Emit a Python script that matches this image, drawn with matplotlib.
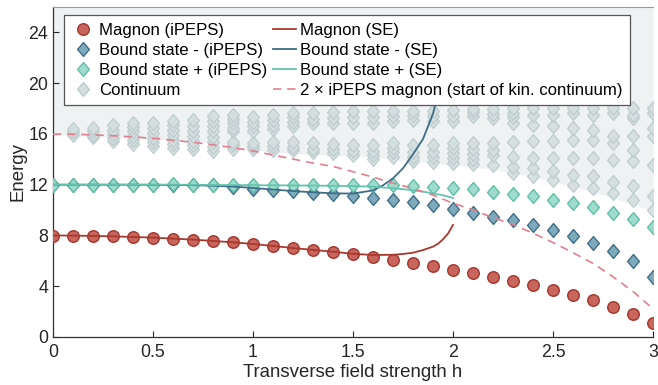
import matplotlib
matplotlib.use("Agg")
import matplotlib.pyplot as plt
import numpy as np
from matplotlib.path import Path
from matplotlib.lines import Line2D

plt.rcParams["font.family"] = ["Liberation Sans", "DejaVu Sans"]

# Transverse field grid of the iPEPS data
h = [0.0, 0.1, 0.2, 0.3, 0.4, 0.5, 0.6, 0.7, 0.8, 0.9, 1.0,
     1.1, 1.2, 1.3, 1.4, 1.5, 1.6, 1.7, 1.8, 1.9, 2.0,
     2.1, 2.2, 2.3, 2.4, 2.5, 2.6, 2.7, 2.8, 2.9, 3.0]

magnon = [7.99, 7.99, 7.96, 7.93, 7.88, 7.83, 7.75, 7.67, 7.57, 7.46, 7.33,
          7.17, 7.01, 6.85, 6.72, 6.51, 6.30, 6.06, 5.85, 5.59, 5.27,
          5.01, 4.70, 4.43, 4.09, 3.72, 3.32, 2.90, 2.37, 1.79, 1.11]

bound_minus = [12.0, 12.0, 12.0, 12.0, 12.0, 12.0, 12.0, 12.0, 11.95, 11.85, 11.68,
               11.58, 11.5, 11.38, 11.25, 11.1, 10.95, 10.8, 10.62, 10.4, 10.12,
               9.75, 9.49, 9.2, 8.83, 8.43, 7.96, 7.43, 6.80, 6.01, 4.74]

bound_plus = [12.0, 12.0, 12.0, 12.0, 12.0, 12.0, 12.02, 12.0, 12.0, 12.0, 12.0,
              12.0, 12.0, 12.0, 12.0, 12.0, 11.97, 11.95, 11.9, 11.83, 11.75,
              11.65, 11.46, 11.28, 11.07, 10.81, 10.54, 10.23, 9.80, 9.28, 8.65]

# Series expansion curves
h_se = [0.0, 0.1, 0.2, 0.3, 0.4, 0.5, 0.6, 0.7, 0.8, 0.9, 1.0,
        1.1, 1.2, 1.3, 1.4, 1.5, 1.6, 1.7, 1.75, 1.8, 1.85, 1.9, 1.925, 1.95, 1.975, 2.0]
magnon_se = [8.0, 7.99, 7.96, 7.93, 7.88, 7.83, 7.75, 7.67, 7.57, 7.46, 7.33,
             7.17, 7.01, 6.86, 6.72, 6.55, 6.46, 6.48, 6.54, 6.64, 6.85, 7.12, 7.35, 7.7, 8.15, 8.83]
plus_se = [12.0, 12.0, 12.0, 12.0, 12.0, 12.0, 12.0, 11.99, 11.98, 11.97, 11.96,
           11.95, 11.94, 11.93, 11.91, 11.89, 11.84, 11.72, 11.65, 11.56, 11.45, 11.32, 11.24, 11.16, 11.06, 10.95]
# bound state - (SE) diverges and disappears behind the legend
h_minus_se = [0.0, 0.1, 0.2, 0.3, 0.4, 0.5, 0.6, 0.7, 0.8, 0.9, 1.0,
              1.1, 1.2, 1.3, 1.4, 1.5, 1.6, 1.65, 1.7, 1.75, 1.8, 1.85, 1.9, 1.925, 1.95]
minus_se = [12.0, 12.0, 12.0, 12.0, 12.0, 11.99, 11.98, 11.96, 11.92, 11.85, 11.74,
            11.62, 11.5, 11.4, 11.32, 11.3, 11.55, 11.95, 12.5, 13.3, 14.4, 15.6, 17.6, 19.2, 21.3]

# Two-particle continuum levels per field value (h = 0.1 ... 3.0)
cont_h = h[1:]
cont_E = [
    [15.95, 16.15, 16.4],
    [15.75, 15.95, 16.2, 16.5],
    [15.45, 15.7, 16.0, 16.3, 16.7],
    [15.2, 15.5, 15.8, 16.2, 16.55, 16.85],
    [15.05, 15.35, 15.7, 16.1, 16.5, 16.9],
    [14.9, 15.2, 15.55, 15.9, 16.3, 16.7, 17.05],
    [14.8, 15.1, 15.45, 15.85, 16.25, 16.65, 17.1],
    [14.65, 15.0, 15.35, 15.75, 16.2, 16.6, 17.0, 17.45],
    [14.8, 15.1, 15.4, 16.2, 16.5, 16.85, 17.2, 17.5],
    [14.8, 15.05, 15.3, 16.25, 16.6, 16.95, 17.3],
    [14.75, 15.05, 15.4, 16.35, 16.7, 17.1, 17.5],
    [14.7, 15.0, 15.4, 16.6, 16.95, 17.3, 17.65],
    [14.6, 14.85, 15.25, 16.85, 17.2, 17.65],
    [14.5, 14.8, 15.2, 16.85, 17.25, 17.75],
    [14.3, 14.65, 15.1, 16.9, 17.35, 17.8],
    [14.0, 14.3, 14.65, 15.1, 16.9, 17.3, 17.8],
    [14.2, 14.55, 14.9, 15.3, 17.0, 17.4, 17.8],
    [13.85, 14.2, 14.6, 15.15, 17.1, 17.5, 17.8],
    [13.8, 14.15, 14.6, 15.15, 17.0, 17.4, 17.8],
    [13.7, 14.1, 14.5, 14.9, 15.3, 17.0, 17.45, 17.85],
    [13.6, 14.0, 14.4, 14.85, 15.3, 17.4, 17.7, 18.0],
    [13.55, 14.3, 14.7, 15.3, 17.25, 17.6, 18.0],
    [12.9, 13.4, 14.2, 15.4, 16.9, 17.3, 17.65, 18.05],
    [12.65, 13.3, 14.1, 15.42, 16.73, 17.53, 18.05],
    [12.39, 13.05, 14.1, 15.42, 16.6, 17.53, 18.05],
    [11.99, 12.78, 14.1, 15.5, 16.47, 17.66, 18.05],
    [11.73, 12.65, 14.1, 15.5, 16.34, 17.53, 18.05],
    [11.33, 12.25, 13.97, 15.29, 15.8, 17.66, 18.05],
    [10.8, 11.86, 13.84, 14.76, 15.8, 17.26, 17.53, 18.05],
    [10.01, 11.07, 13.57, 15.8, 16.47, 17.66, 18.05],
]

# Lower edge of the shaded continuum region
shade_lo = [16.0, 15.85, 15.8, 15.72, 15.65, 15.58, 15.5, 15.4, 15.25, 15.0, 14.75,
            14.55, 14.45, 14.38, 14.3, 14.25, 14.15, 14.0, 13.85, 13.7, 13.55,
            13.4, 13.2, 12.95, 12.6, 12.25, 11.85, 11.4, 10.95, 10.45, 9.95]

# Slightly tall diamond, like the MATLAB one
DIAMOND = Path([(0, 1), (0.85, 0), (0, -1), (-0.85, 0), (0, 1)],
               [Path.MOVETO, Path.LINETO, Path.LINETO, Path.LINETO, Path.CLOSEPOLY])
DMS = 10

RED_F, RED_E = "#c8665e", "#a3342c"
DARK_F, DARK_E = "#7faabb", "#3e6f87"
TEAL_F, TEAL_E = "#a0dccd", "#5fbfa8"
CONT_F, CONT_E = "#d5dfe0", "#bccbcc"
PINK = "#e2808f"
DASH = (0, (5, 3.5))

fig = plt.figure(figsize=(6.58, 3.85), dpi=100)
ax = fig.add_axes([0.0805, 0.1247, 0.912, 0.8571])

ax.fill_between(h, shade_lo, 26, color="#eef2f3", lw=0, zorder=0)

cx = [x for x, es in zip(cont_h, cont_E) for _ in es]
cy = [e for es in cont_E for e in es]
ax.plot(cx, cy, ls="none", marker=DIAMOND, ms=DMS, mfc=CONT_F, mec=CONT_E,
        mew=1.0, alpha=0.9, zorder=2)

ax.plot(h, bound_minus, ls="none", marker=DIAMOND, ms=DMS, mfc=DARK_F, mec=DARK_E,
        mew=1.0, zorder=3)
ax.plot(h, bound_plus, ls="none", marker=DIAMOND, ms=DMS, mfc=TEAL_F, mec=TEAL_E,
        mew=1.0, zorder=3)
ax.plot(h, magnon, ls="none", marker="o", ms=8.3, mfc=RED_F, mec=RED_E,
        mew=1.0, zorder=3)

ax.plot(h_se, magnon_se, color="#a8392f", lw=1.3, zorder=4)
ax.plot(h_minus_se, minus_se, color="#3d6d87", lw=1.3, zorder=4)
ax.plot(h_se, plus_se, color="#64c3ae", lw=1.3, zorder=4)
ax.plot(h, 2 * np.array(magnon), color=PINK, lw=1.2, ls=DASH, zorder=4)

ax.set_xlim(0, 3)
ax.set_ylim(0, 26)
ax.set_xticks([0, 0.5, 1, 1.5, 2, 2.5, 3])
ax.set_xticklabels(["0", "0.5", "1", "1.5", "2", "2.5", "3"])
ax.set_yticks([0, 4, 8, 12, 16, 20, 24])
ax.tick_params(direction="in", length=4, width=0.8, labelsize=12.8,
               colors="#262626")
ax.tick_params(axis="x", pad=5)
ax.spines["right"].set_visible(False)
ax.spines["top"].set_color("#9a9a9a")
for s in ("left", "bottom"):
    ax.spines[s].set_color("#333333")
    ax.spines[s].set_linewidth(0.9)
ax.set_xlabel("Transverse field strength h", fontsize=13.4, color="#262626", labelpad=2)
ax.set_ylabel("Energy", fontsize=13.4, color="#262626", labelpad=1)

handles = [
    Line2D([], [], ls="none", marker="o", ms=8.3, mfc=RED_F, mec=RED_E),
    Line2D([], [], ls="none", marker=DIAMOND, ms=DMS, mfc=DARK_F, mec=DARK_E),
    Line2D([], [], ls="none", marker=DIAMOND, ms=DMS, mfc=TEAL_F, mec=TEAL_E),
    Line2D([], [], ls="none", marker=DIAMOND, ms=DMS, mfc=CONT_F, mec=CONT_E),
    Line2D([], [], color="#a8392f", lw=1.3),
    Line2D([], [], color="#3d6d87", lw=1.3),
    Line2D([], [], color="#64c3ae", lw=1.3),
    Line2D([], [], color=PINK, lw=1.2, ls=DASH),
]
labels = ["Magnon (iPEPS)", "Bound state - (iPEPS)", "Bound state + (iPEPS)", "Continuum",
          "Magnon (SE)", "Bound state - (SE)", "Bound state + (SE)",
          "2 \u00d7 iPEPS magnon (start of kin. continuum)"]
leg = ax.legend(handles, labels, ncol=2, loc="upper left",
                bbox_to_anchor=(0.0183, 0.9758), borderaxespad=0,
                fontsize=12.1, handlelength=1.4, handletextpad=0.25,
                columnspacing=0.3, labelspacing=0.3, borderpad=0.45,
                fancybox=False, framealpha=1, edgecolor="#555555")
leg.get_frame().set_linewidth(0.9)
leg.set_zorder(10)

fig.savefig("out.png", dpi=100)
